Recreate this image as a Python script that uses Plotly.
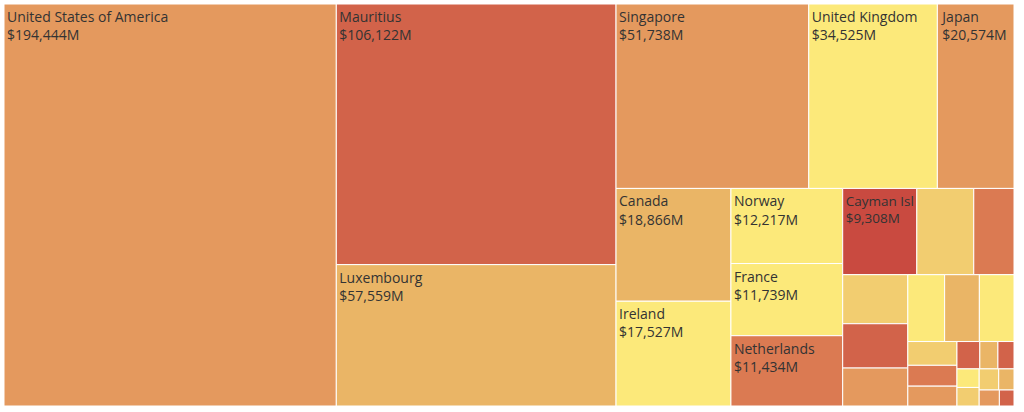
import plotly.graph_objects as go

countries = ["United States of America", "Mauritius", "Luxembourg", "Singapore", "United Kingdom",
             "Japan", "Canada", "Ireland", "Norway", "France", "Netherlands", "Cayman Isl",
             "Switzerland", "Germany", "Hong Kong", "Australia", "Bermuda", "China",
             "Spain", "Korea", "British Virgin Isl", "Italy", "Sweden", "Belgium",
             "Denmark", "Austria", "Finland", "Israel", "UAE", "Taiwan", "Brazil", "Russia"]
values = [194444, 106122, 57559, 51738, 34525, 20574, 18866, 17527, 12217, 11739, 11434, 9308,
          7150, 5050, 4650, 4200, 3600, 3580, 3380, 3370, 1700, 1490, 1420, 910,
          720, 640, 600, 600, 600, 470, 470, 340]
colors = ["#E4995E", "#D2634A", "#EAB566", "#E4995E", "#FCE97A", "#E4995E", "#EAB566", "#FCE97A",
          "#FCE97A", "#FCE97A", "#DB7A52", "#C94A40",
          "#F2CD70", "#DB7A52", "#F2CD70", "#D2634A", "#E4995E", "#FCE97A", "#EAB566", "#FCE97A",
          "#F2CD70", "#DB7A52", "#E4995E", "#D2634A", "#EAB566", "#D2634A", "#FCE97A", "#F2CD70",
          "#F2CD70", "#EAB566", "#E4995E", "#D2634A"]
labelled = 12
texts = [f"{c}<br>${v:,}M" if i < labelled else "" for i, (c, v) in enumerate(zip(countries, values))]

fig = go.Figure(go.Treemap(
    labels=countries,
    parents=[""] * len(countries),
    values=values,
    text=texts,
    marker=dict(colors=colors, line=dict(color="white", width=1), pad=dict(t=0, l=0, r=0, b=0)),
    texttemplate="%{text}",
    textposition="top left",
    textfont=dict(family="Open Sans", size=14, color="#333"),
    pathbar=dict(visible=False),
    tiling=dict(pad=0, squarifyratio=1.618),
))
fig.update_layout(width=1024, height=412, margin=dict(l=4, r=10, t=4, b=6),
                  paper_bgcolor="white")
fig.write_html("out.html", config=dict(displayModeBar=False),
               post_script="document.body.style.margin='0';")
